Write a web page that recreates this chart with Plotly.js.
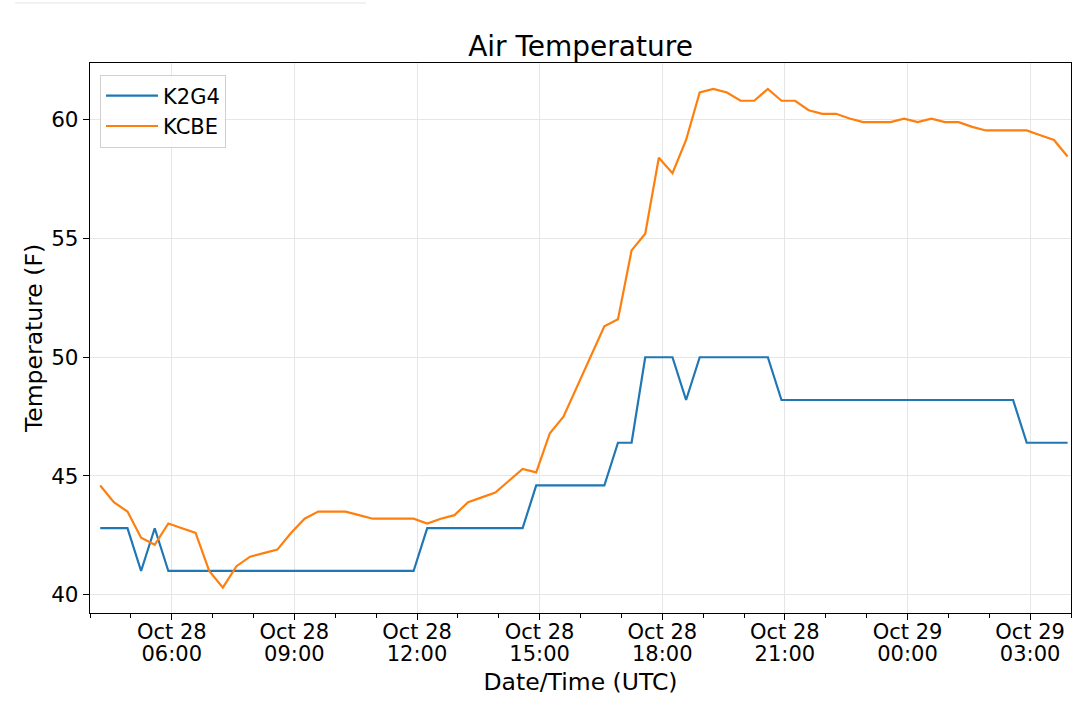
<!DOCTYPE html>
<html>
<head>
<meta charset="utf-8">
<script src="https://cdn.plot.ly/plotly-3.0.1.min.js"></script>
<style>
  body { margin: 0; background: #fff; }
  #temps { width: 1080px; height: 705px; }
</style>
</head>
<body>
<div id="temps"></div>
<script>
// observation times (UTC), every 20 minutes
var obsTimes = [
  '2018-10-28 04:15', '2018-10-28 04:35', '2018-10-28 04:55', '2018-10-28 05:15', '2018-10-28 05:35', '2018-10-28 05:55',
  '2018-10-28 06:15', '2018-10-28 06:35', '2018-10-28 06:55', '2018-10-28 07:15', '2018-10-28 07:35', '2018-10-28 07:55',
  '2018-10-28 08:15', '2018-10-28 08:35', '2018-10-28 08:55', '2018-10-28 09:15', '2018-10-28 09:35', '2018-10-28 09:55',
  '2018-10-28 10:15', '2018-10-28 10:35', '2018-10-28 10:55', '2018-10-28 11:15', '2018-10-28 11:35', '2018-10-28 11:55',
  '2018-10-28 12:15', '2018-10-28 12:35', '2018-10-28 12:55', '2018-10-28 13:15', '2018-10-28 13:35', '2018-10-28 13:55',
  '2018-10-28 14:15', '2018-10-28 14:35', '2018-10-28 14:55', '2018-10-28 15:15', '2018-10-28 15:35', '2018-10-28 15:55',
  '2018-10-28 16:15', '2018-10-28 16:35', '2018-10-28 16:55', '2018-10-28 17:15', '2018-10-28 17:35', '2018-10-28 17:55',
  '2018-10-28 18:15', '2018-10-28 18:35', '2018-10-28 18:55', '2018-10-28 19:15', '2018-10-28 19:35', '2018-10-28 19:55',
  '2018-10-28 20:15', '2018-10-28 20:35', '2018-10-28 20:55', '2018-10-28 21:15', '2018-10-28 21:35', '2018-10-28 21:55',
  '2018-10-28 22:15', '2018-10-28 22:35', '2018-10-28 22:55', '2018-10-28 23:15', '2018-10-28 23:35', '2018-10-28 23:55',
  '2018-10-29 00:15', '2018-10-29 00:35', '2018-10-29 00:55', '2018-10-29 01:15', '2018-10-29 01:35', '2018-10-29 01:55',
  '2018-10-29 02:15', '2018-10-29 02:35', '2018-10-29 02:55', '2018-10-29 03:15', '2018-10-29 03:35', '2018-10-29 03:55'
];

var k2g4Temps = [
  42.8, 42.8, 42.8, 41.0, 42.8, 41.0,
  41.0, 41.0, 41.0, 41.0, 41.0, 41.0,
  41.0, 41.0, 41.0, 41.0, 41.0, 41.0,
  41.0, 41.0, 41.0, 41.0, 41.0, 41.0,
  42.8, 42.8, 42.8, 42.8, 42.8, 42.8,
  42.8, 42.8, 44.6, 44.6, 44.6, 44.6,
  44.6, 44.6, 46.4, 46.4, 50.0, 50.0,
  50.0, 48.2, 50.0, 50.0, 50.0, 50.0,
  50.0, 50.0, 48.2, 48.2, 48.2, 48.2,
  48.2, 48.2, 48.2, 48.2, 48.2, 48.2,
  48.2, 48.2, 48.2, 48.2, 48.2, 48.2,
  48.2, 48.2, 46.4, 46.4, 46.4, 46.4
];

var kcbeTemps = [
  44.6, 43.9, 43.5, 42.4, 42.1, 43.0,
  42.8, 42.6, 41.0, 40.3, 41.2, 41.6,
  41.75, 41.9, 42.6, 43.2, 43.5, 43.5,
  43.5, 43.35, 43.2, 43.2, 43.2, 43.2,
  43.0, 43.2, 43.35, 43.9, 44.1, 44.3,
  44.8, 45.3, 45.15, 46.8, 47.5, 48.75,
  50.0, 51.3, 51.6, 54.5, 55.2, 58.4,
  57.75, 59.15, 61.15, 61.3, 61.15, 60.8,
  60.8, 61.3, 60.8, 60.8, 60.4, 60.25,
  60.25, 60.05, 59.9, 59.9, 59.9, 60.05,
  59.9, 60.05, 59.9, 59.9, 59.7, 59.55,
  59.55, 59.55, 59.55, 59.35, 59.15, 58.45
];

var stationNames = ['K2G4', 'KCBE'];
var stationColors = ['#1f77b4', '#ff7f0e'];

var tickTimes = [
  '2018-10-28 06:00', '2018-10-28 09:00', '2018-10-28 12:00', '2018-10-28 15:00',
  '2018-10-28 18:00', '2018-10-28 21:00', '2018-10-29 00:00', '2018-10-29 03:00'
];
var tickDays = ['Oct 28', 'Oct 28', 'Oct 28', 'Oct 28', 'Oct 28', 'Oct 28', 'Oct 29', 'Oct 29'];
var tickHours = ['06:00', '09:00', '12:00', '15:00', '18:00', '21:00', '00:00', '03:00'];

var font = 'DejaVu Sans, Liberation Sans, sans-serif';
var timeRange = ['2018-10-28 04:00', '2018-10-29 04:00'];

function buildChart() {
  var series = [k2g4Temps, kcbeTemps];
  var axes = ['x', 'x2'];
  var data = [];
  for (var i = 0; i < series.length; i++) {
    data.push({
      type: 'scatter',
      mode: 'lines',
      x: obsTimes,
      y: series[i],
      xaxis: axes[i],
      name: stationNames[i],
      line: { color: stationColors[i], width: 2.2 }
    });
  }

  var layout = {
    width: 1080,
    height: 705,
    margin: { l: 90, r: 9, t: 63, b: 92 },
    paper_bgcolor: '#fff',
    plot_bgcolor: '#fff',
    font: { family: font, color: '#000', size: 21 },
    title: {
      text: 'Air Temperature',
      font: { size: 28, color: '#000' },
      x: 0.5, xref: 'paper',
      y: 0.935, yref: 'container', yanchor: 'middle'
    },
    showlegend: true,
    legend: {
      x: 0.0102, y: 0.979, xanchor: 'left', yanchor: 'top',
      bgcolor: 'rgba(255,255,255,0.8)',
      bordercolor: '#d0d0d0', borderwidth: 1,
      itemwidth: 52,
      font: { size: 21 }
    },
    // date line of the tick labels
    xaxis: {
      type: 'date',
      range: timeRange,
      tickmode: 'array',
      tickvals: tickTimes,
      ticktext: tickDays,
      ticks: 'outside', ticklen: 6, tickwidth: 1.3, tickcolor: '#000',
      ticklabelstandoff: -6,
      tickfont: { size: 21 },
      minor: {
        dtick: 3600000, tick0: timeRange[0],
        ticks: 'outside', ticklen: 3.5, tickwidth: 1, tickcolor: '#000',
        showgrid: false
      },
      showgrid: true, gridcolor: '#e6e6e6', gridwidth: 1.3,
      zeroline: false,
      showline: true, linecolor: '#000', linewidth: 1.3, mirror: true
    },
    // hour line of the tick labels
    xaxis2: {
      type: 'date',
      overlaying: 'x',
      anchor: 'y',
      side: 'bottom',
      range: timeRange,
      tickmode: 'array',
      tickvals: tickTimes,
      ticktext: tickHours,
      ticks: '',
      ticklabelstandoff: 26,
      tickfont: { size: 21 },
      showgrid: false, zeroline: false, showline: false,
      title: { text: 'Date/Time (UTC)', font: { size: 23.5 }, standoff: 8 }
    },
    yaxis: {
      range: [39.23, 62.39],
      dtick: 5, tick0: 40,
      ticks: 'outside', ticklen: 6, tickwidth: 1.3, tickcolor: '#000',
      tickfont: { size: 21.5 },
      showgrid: true, gridcolor: '#e6e6e6', gridwidth: 1.3,
      zeroline: false,
      showline: true, linecolor: '#000', linewidth: 1.3, mirror: true,
      title: { text: 'Temperature (F)', font: { size: 23.5 }, standoff: 1 }
    },
    shapes: [{
      type: 'line', xref: 'paper', yref: 'paper',
      x0: -0.0765, x1: 0.2814, y0: 1.109, y1: 1.109,
      line: { color: '#eeeeee', width: 1.5 }
    }]
  };

  var TEMPS = document.getElementById('temps');
  Plotly.newPlot(TEMPS, data, layout, { displayModeBar: false });
}

buildChart();
</script>
</body>
</html>
